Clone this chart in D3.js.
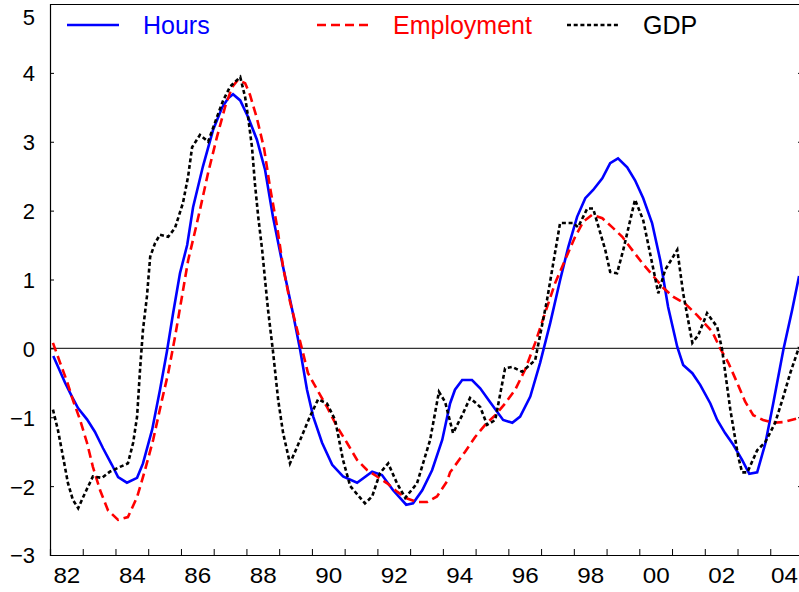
<!DOCTYPE html>
<html>
<head>
<meta charset="utf-8">
<script src="https://cdn.jsdelivr.net/npm/d3@7"></script>
<style>
  body { margin: 0; background: #fff; }
  svg text { font-family: "Liberation Sans", Arial, sans-serif; }
</style>
</head>
<body>
<div id="chart"></div>
<script>
// series (decimal years, values)
var hoursYears = [1982.10,1982.46,1982.67,1982.86,1983.13,1983.37,1983.62,1983.89,1984.08,1984.35,1984.66,1984.84,
  1985.12,1985.36,1985.57,1985.76,1985.97,1986.19,1986.37,1986.67,1986.98,1987.26,1987.44,1987.59,1987.81,
  1988.05,1988.32,1988.57,1988.81,1989.12,1989.42,1989.64,1989.85,1990.04,1990.31,1990.62,1990.95,1991.38,
  1991.84,1992.14,1992.48,1992.88,1993.09,1993.37,1993.67,1993.98,1994.22,1994.37,1994.59,1994.89,1995.14,
  1995.44,1995.84,1996.12,1996.36,1996.67,1996.97,1997.28,1997.58,1997.83,1998.10,1998.35,1998.59,1998.87,
  1999.11,1999.35,1999.63,1999.87,2000.12,2000.39,2000.64,2000.88,2001.16,2001.34,2001.62,2001.86,2002.17,
  2002.38,2002.62,2002.87,2003.14,2003.36,2003.60,2003.85,2004.09,2004.40,2004.67,2004.88];
var hoursValues = [-0.11,-0.5,-0.7,-0.87,-1.03,-1.21,-1.45,-1.69,-1.87,-1.95,-1.88,-1.67,
  -1.18,-0.6,-0.05,0.51,1.09,1.5,2.05,2.64,3.17,3.5,3.63,3.69,3.6,
  3.36,3.03,2.59,1.91,1.18,0.51,-0.02,-0.6,-0.99,-1.37,-1.69,-1.86,-1.95,
  -1.79,-1.84,-2.06,-2.27,-2.25,-2.06,-1.77,-1.33,-0.8,-0.6,-0.46,-0.46,-0.58,
  -0.78,-1.04,-1.08,-0.99,-0.7,-0.21,0.37,0.99,1.47,1.91,2.18,2.3,2.47,
  2.69,2.76,2.63,2.44,2.18,1.82,1.28,0.6,0.02,-0.24,-0.36,-0.53,-0.8,
  -1.04,-1.23,-1.4,-1.62,-1.82,-1.8,-1.38,-0.8,-0.02,0.56,1.05];

var employmentYears = [1982.09,1982.31,1982.52,1982.70,1982.92,1983.13,1983.31,1983.53,1983.77,1984.08,1984.38,1984.66,
  1984.90,1985.15,1985.42,1985.61,1985.82,1986.03,1986.22,1986.43,1986.58,1986.83,1987.10,1987.35,1987.56,
  1987.74,1987.96,1988.11,1988.32,1988.54,1988.72,1988.94,1989.12,1989.33,1989.55,1989.73,1989.88,1990.16,
  1990.46,1990.77,1991.07,1991.38,1991.69,1991.99,1992.30,1992.60,1992.91,1993.21,1993.52,1993.82,1994.13,
  1994.22,1994.68,1994.98,1995.29,1995.60,1995.90,1996.21,1996.51,1996.82,1997.12,1997.43,1997.73,1998.04,
  1998.29,1998.56,1998.87,1999.17,1999.48,1999.78,2000.09,2000.39,2000.73,2001.03,2001.40,2001.77,2002.23,
  2002.47,2002.72,2002.99,2003.23,2003.48,2003.78,2004.09,2004.40,2004.88];
var employmentValues = [0.08,-0.21,-0.48,-0.75,-1.04,-1.37,-1.72,-2.06,-2.35,-2.49,-2.45,-2.16,
  -1.77,-1.33,-0.75,-0.36,0.17,0.75,1.28,1.7,2.01,2.55,3.07,3.51,3.79,
  3.9,3.85,3.68,3.34,2.9,2.34,1.76,1.18,0.68,0.27,-0.07,-0.36,-0.6,
  -0.85,-1.14,-1.37,-1.62,-1.77,-1.86,-1.96,-2.08,-2.18,-2.23,-2.23,-2.15,-1.93,
  -1.8,-1.5,-1.29,-1.11,-0.97,-0.8,-0.6,-0.31,0.08,0.51,0.95,1.28,1.62,
  1.84,1.94,1.89,1.76,1.62,1.43,1.24,1.07,0.88,0.75,0.65,0.48,0.24,
  0.0,-0.21,-0.5,-0.77,-0.97,-1.04,-1.08,-1.07,-1.01];

var gdpYears = [1982.09,1982.24,1982.40,1982.55,1982.70,1982.86,1983.07,1983.31,1983.59,1983.83,1984.14,1984.38,
  1984.54,1984.66,1984.75,1984.84,1984.96,1985.06,1985.21,1985.36,1985.61,1985.82,1986.06,1986.22,1986.34,
  1986.58,1986.83,1987.10,1987.29,1987.50,1987.81,1987.96,1988.05,1988.17,1988.26,1988.36,1988.48,1988.57,
  1988.66,1988.81,1988.97,1989.12,1989.33,1989.64,1989.94,1990.19,1990.46,1990.71,1990.95,1991.17,1991.62,
  1991.84,1992.08,1992.33,1992.60,1992.85,1993.21,1993.61,1993.88,1994.07,1994.31,1994.59,1994.83,1995.14,
  1995.35,1995.60,1995.90,1996.12,1996.42,1996.82,1997.18,1997.58,1997.98,1998.13,1998.41,1998.59,1998.96,
  1999.11,1999.32,1999.51,1999.87,2000.12,2000.39,2000.58,2000.79,2001.16,2001.34,2001.62,2001.80,2002.07,
  2002.38,2002.53,2002.78,2003.02,2003.14,2003.30,2003.60,2003.85,2004.15,2004.40,2004.61,2004.88];
var gdpValues = [-0.89,-1.18,-1.58,-1.96,-2.2,-2.32,-2.1,-1.86,-1.88,-1.79,-1.72,-1.67,
  -1.37,-0.99,-0.31,0.27,0.75,1.33,1.53,1.65,1.62,1.75,2.11,2.5,2.92,
  3.1,3.0,3.36,3.6,3.8,3.94,3.65,3.36,2.92,2.39,1.91,1.43,0.99,
  0.56,-0.04,-0.75,-1.23,-1.67,-1.33,-0.99,-0.74,-0.8,-1.04,-1.62,-2.0,-2.25,
  -2.15,-1.81,-1.67,-1.96,-2.17,-1.96,-1.33,-0.63,-0.78,-1.23,-0.97,-0.72,-0.85,
  -1.11,-1.04,-0.29,-0.27,-0.34,-0.17,0.7,1.82,1.82,1.76,2.03,2.03,1.43,
  1.11,1.09,1.43,2.16,1.86,1.24,0.8,1.14,1.43,0.8,0.08,0.19,0.51,
  0.31,-0.02,-0.89,-1.57,-1.8,-1.8,-1.48,-1.36,-1.08,-0.7,-0.36,0.02];

var yTicks = [-3, -2, -1, 0, 1, 2, 3, 4, 5];
var yearTicks = d3.range(1982, 2006);
var yearLabels = [1982, 1984, 1986, 1988, 1990, 1992, 1994, 1996, 1998, 2000, 2002, 2004];

var series = [
  {name: "Hours", years: hoursYears, values: hoursValues, color: "#0000ff", dash: null},
  {name: "Employment", years: employmentYears, values: employmentValues, color: "#ff0000", dash: "9,5"},
  {name: "GDP", years: gdpYears, values: gdpValues, color: "#000000", dash: "4,2.7"}
];

var W = 799, H = 592;
var plotLeft = 50, plotRight = 803, plotTop = 4, plotBottom = 555;

var svg = d3.select("#chart").append("svg")
  .attr("width", W).attr("height", H);

var x = d3.scaleLinear().domain([1982, 2005]).range([plotLeft, plotRight]);
var y = d3.scaleLinear().domain([-3, 5]).range([plotBottom, plotTop]);

// frame top
svg.append("line").attr("x1", plotLeft).attr("x2", plotRight).attr("y1", plotTop + 0.5).attr("y2", plotTop + 0.5)
  .attr("stroke", "#000").attr("stroke-width", 1.2);

// zero line
svg.append("line").attr("x1", plotLeft).attr("x2", plotRight).attr("y1", y(0)).attr("y2", y(0))
  .attr("stroke", "#333").attr("stroke-width", 1.1);

// left axis
var gl = svg.append("g").attr("transform", "translate(" + plotLeft + ",0)")
  .call(d3.axisLeft(y).tickValues(yTicks).tickSize(-4).tickPadding(15).tickFormat(d3.format("d")));
gl.select(".domain").attr("stroke", "#000").attr("stroke-width", 1.2);
gl.selectAll("text").attr("font-size", 22).attr("fill", "#000")
  .attr("dy", function (d) { return d === 5 ? "0.95em" : "0.36em"; });

// right axis (just past the canvas edge, ticks poke in)
var gr = svg.append("g").attr("transform", "translate(" + plotRight + ",0)")
  .call(d3.axisRight(y).tickValues(yTicks).tickSize(-5).tickFormat(""));
gr.select(".domain").attr("stroke", "#000");

// bottom axis ticks, one per year
var gb = svg.append("g").attr("transform", "translate(0," + plotBottom + ")")
  .call(d3.axisBottom(x).tickValues(yearTicks).tickSize(-6).tickFormat(""));
gb.select(".domain").attr("stroke", "#000").attr("stroke-width", 1.2);

// year labels centred in the year
var gx = svg.append("g").attr("transform", "translate(0," + plotBottom + ")")
  .call(d3.axisBottom(x).tickValues(yearLabels.map(function (d) { return d + 0.5; }))
    .tickSize(0).tickPadding(12)
    .tickFormat(function (d) { return String(Math.floor(d) % 100).padStart(2, "0"); }));
gx.select(".domain").remove();
gx.selectAll("text").attr("font-size", 22).attr("fill", "#000")
  .attr("transform", "scale(1.1,1)")
  .attr("dx", function (d) { return d > 2004 ? -2.5 : 0; });

// lines
svg.append("clipPath").attr("id", "plot").append("rect")
  .attr("x", plotLeft).attr("y", 0).attr("width", plotRight - plotLeft).attr("height", plotBottom);

series.forEach(function (s) {
  var pts = s.years.map(function (t, i) { return [t, s.values[i]]; });
  svg.append("path")
    .datum(pts)
    .attr("clip-path", "url(#plot)")
    .attr("fill", "none")
    .attr("stroke", s.color)
    .attr("stroke-width", 2.6)
    .attr("stroke-dasharray", s.dash)
    .attr("d", d3.line().x(function (d) { return x(d[0]); }).y(function (d) { return y(d[1]); }));
});

// legend
var legendX = [67, 317, 567];
var legend = svg.selectAll(".leg").data(series).enter().append("g")
  .attr("transform", function (d, i) { return "translate(" + legendX[i] + ",25)"; });
legend.append("line").attr("x1", 0).attr("x2", 52).attr("y1", 0).attr("y2", 0)
  .attr("stroke", function (d) { return d.color; })
  .attr("stroke-width", 2.6)
  .attr("stroke-dasharray", function (d) { return d.dash; });
legend.append("text").attr("x", 76).attr("y", 9)
  .attr("font-size", 25)
  .attr("fill", function (d) { return d.color; })
  .text(function (d) { return d.name; });
</script>
</body>
</html>
